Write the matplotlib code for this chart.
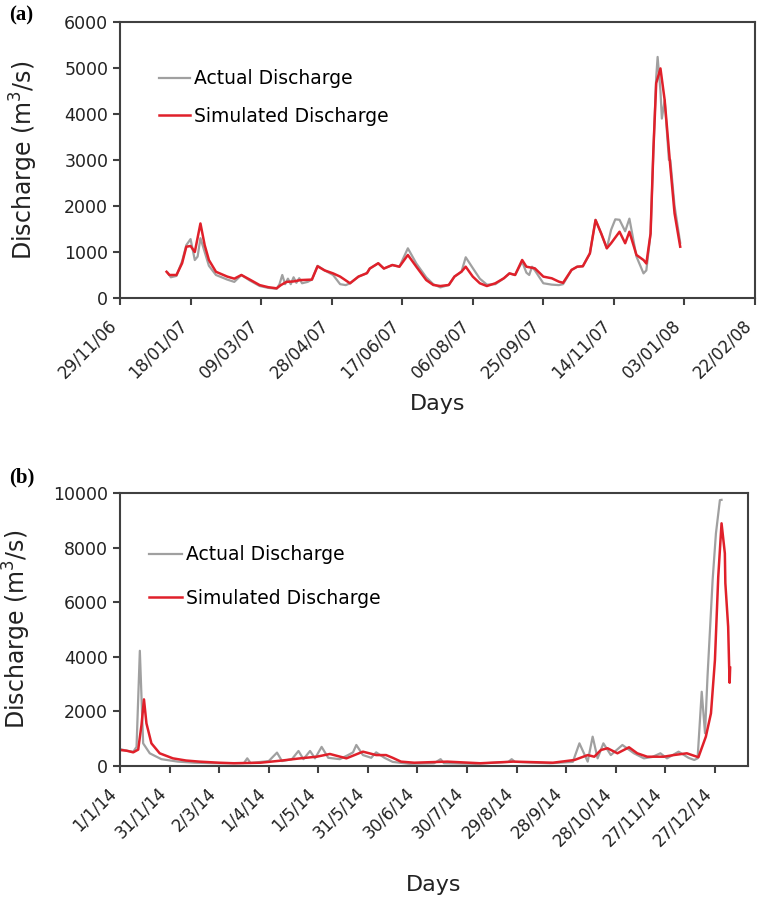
import numpy as np
import pandas as pd
import matplotlib
matplotlib.use("Agg")
import matplotlib.pyplot as plt
import matplotlib.dates as mdates

plt.rcParams['font.family'] = ['DejaVu Sans']

# ---- panel (a): 2007, days counted from 1 Jan 2007
sim_a_day = [0, 2, 7, 11, 14, 17, 20, 24, 27, 30, 35, 43, 48, 53, 59, 66, 72, 78, 81, 85, 90,
             95, 103, 107, 112, 118, 123, 130, 136, 142, 144, 150, 154, 160, 165, 171, 177,
             184, 189, 194, 200, 204, 209, 212, 217, 222, 227, 233, 239, 243, 247, 252, 255,
             261, 267, 273, 278, 281, 287, 291, 295, 300, 304, 308, 312, 315, 321, 325, 328,
             333, 338, 340, 343, 345, 347, 350, 353, 357, 360, 364]
sim_a_val = [570, 500, 500, 755, 1115, 1130, 1000, 1620, 1150, 825, 570, 465, 420, 500, 400,
             280, 235, 210, 280, 350, 360, 390, 400, 690, 600, 535, 465, 320, 465, 540, 640,
             755, 640, 717, 680, 935, 680, 390, 283, 260, 283, 465, 572, 680, 465, 320, 260,
             320, 428, 535, 500, 826, 680, 645, 465, 428, 355, 330, 610, 680, 690, 970, 1695,
             1405, 1080, 1190, 1440, 1190, 1440, 935, 825, 750, 1400, 3220, 4670, 4990, 4300,
             2855, 1840, 1115]
act_a_day = [1, 3, 7, 11, 14, 17, 20, 22, 24, 27, 30, 35, 43, 48, 53, 59, 66, 72, 78, 80, 82,
             84, 86, 88, 90, 92, 94, 96, 100, 103, 107, 112, 118, 123, 127, 130, 136, 142, 144,
             150, 154, 160, 165, 171, 177, 184, 189, 194, 200, 204, 209, 212, 217, 222, 227,
             233, 239, 243, 247, 252, 255, 257, 259, 261, 267, 273, 278, 281, 287, 291, 295,
             300, 304, 308, 312, 315, 318, 321, 325, 328, 333, 338, 340, 343, 345, 347, 348,
             350, 351, 353, 356, 357, 360, 364]
act_a_val = [540, 450, 480, 800, 1150, 1280, 825, 900, 1300, 1000, 700, 500, 400, 350, 500,
             380, 260, 220, 200, 300, 500, 300, 420, 300, 450, 330, 430, 320, 350, 400, 700,
             600, 500, 300, 280, 320, 465, 540, 640, 755, 640, 717, 680, 1080, 750, 450, 300,
             230, 283, 465, 572, 885, 650, 420, 290, 300, 428, 535, 500, 790, 550, 500, 680,
             600, 320, 290, 280, 300, 610, 680, 690, 970, 1700, 1400, 1080, 1480, 1710, 1700,
             1450, 1725, 900, 535, 600, 1400, 3200, 4800, 5240, 4500, 3900, 4300, 3000, 3000,
             2000, 1200]
ticks_a = ['29/11/06', '18/01/07', '09/03/07', '28/04/07', '17/06/07', '06/08/07',
           '25/09/07', '14/11/07', '03/01/08', '22/02/08']

# ---- panel (b): 2014, days counted from 1 Jan 2014
sim_b_day = [0, 4, 8, 11, 13, 14.5, 16, 19, 24, 32, 40, 48, 60, 69, 85, 98, 109, 119, 127,
             137, 147, 155, 161, 165, 170, 178, 198, 218, 238, 262, 275, 283, 287, 291, 295,
             301, 308, 313, 319, 329, 335, 343, 350, 354.5, 357.6, 360, 362, 364, 366, 366.3,
             368, 368.6, 368.9, 369.2]
sim_b_val = [586, 560, 500, 600, 1500, 2440, 1560, 830, 465, 280, 200, 160, 120, 100, 120,
             200, 280, 340, 440, 280, 525, 400, 400, 300, 160, 120, 160, 100, 160, 120, 220,
             400, 340, 586, 650, 465, 685, 465, 340, 340, 400, 465, 320, 1075, 1930, 3880,
             6930, 8890, 7790, 6700, 5100, 3640, 3050, 3600]
act_b_day = [0, 4, 8, 10, 12, 14, 18, 25, 35, 45, 60, 75, 77, 79, 90, 95, 98, 104, 108, 111,
             115, 118, 122, 126, 133, 138, 141, 143, 147, 152, 155, 160, 165, 175, 190, 194,
             196, 215, 235, 237, 239, 260, 274, 278, 283, 286, 289, 292.5, 297, 304, 311, 317,
             322, 327, 331, 338, 344, 347.5, 349.5, 352, 354, 355.5, 358.6, 360.6, 363, 364]
act_b_val = [620, 560, 520, 700, 4220, 830, 465, 250, 160, 120, 100, 110, 280, 110, 180, 490,
             180, 250, 550, 250, 550, 280, 700, 300, 250, 400, 500, 770, 400, 300, 500, 300,
             150, 80, 100, 250, 100, 80, 150, 250, 150, 100, 150, 830, 160, 1075, 280, 830,
             400, 770, 465, 280, 330, 465, 280, 525, 300, 220, 280, 2720, 1200, 3270, 6810,
             8520, 9740, 9750]
ticks_b = ['1/1/14', '31/1/14', '2/3/14', '1/4/14', '1/5/14', '31/5/14', '30/6/14',
           '30/7/14', '29/8/14', '28/9/14', '28/10/14', '27/11/14', '27/12/14']


def to_dates(start, days):
    return pd.Timestamp(start) + pd.to_timedelta(np.array(days, dtype=float), unit='D')


GRAY = '#a0a0a0'
RED = '#e0202a'
SPINE = '#404040'

fig = plt.figure(figsize=(7.61, 9.0), dpi=100)
ax1 = fig.add_axes([0.1577, 0.6689, 0.8344, 0.3067])
ax2 = fig.add_axes([0.1577, 0.1489, 0.8252, 0.3033])


def style(ax, tick_dates, tick_labels, ymax, ystep, xlabelpad):
    ax.set_xticks(mdates.date2num(tick_dates))
    ax.set_xticklabels(tick_labels, rotation=45, ha='right')
    ax.set_ylim(0, ymax)
    ax.set_yticks(np.arange(0, ymax + 1, ystep))
    for s in ax.spines.values():
        s.set_color(SPINE)
        s.set_linewidth(1.5)
    ax.tick_params(direction='out', length=5, width=1.5, color=SPINE,
                   labelsize=12.5, labelcolor='#222222')
    ax.tick_params(axis='x', pad=8, labelsize=12)
    ax.set_ylabel('Discharge (m$^3$/s)', fontsize=17, color='#222222')
    ax.set_xlabel('Days', fontsize=16, color='#222222', labelpad=xlabelpad)


# panel (a)
ax1.plot(to_dates('2007-01-01', act_a_day), act_a_val, color=GRAY, lw=1.6, label='Actual Discharge')
ax1.plot(to_dates('2007-01-01', sim_a_day), sim_a_val, color=RED, lw=1.8, label='Simulated Discharge')
ta = pd.date_range('2006-11-29', periods=len(ticks_a), freq='50D')
ax1.set_xlim(mdates.date2num(ta[0]), mdates.date2num(ta[-1]))
style(ax1, ta, ticks_a, 6000, 1000, 9)
ax1.yaxis.set_label_coords(-0.126, 0.5)
ax1.legend(loc='upper left', bbox_to_anchor=(0.035, 0.89), frameon=False,
           fontsize=13.5, handlelength=1.65, handletextpad=0.2, labelspacing=1.0)

# panel (b)
ax2.plot(to_dates('2014-01-01', act_b_day), act_b_val, color=GRAY, lw=1.6, label='Actual Discharge')
ax2.plot(to_dates('2014-01-01', sim_b_day), sim_b_val, color=RED, lw=1.8, label='Simulated Discharge')
tb = pd.date_range('2014-01-01', periods=len(ticks_b), freq='30D')
ax2.set_xlim(mdates.date2num(tb[0]), mdates.date2num(tb[0] + pd.Timedelta(days=380)))
style(ax2, tb, ticks_b, 10000, 2000, 18)
ax2.yaxis.set_label_coords(-0.138, 0.5)
ax2.legend(loc='upper left', bbox_to_anchor=(0.02, 0.87), frameon=False,
           fontsize=13.5, handlelength=1.75, handletextpad=0.2, labelspacing=1.3)

fig.text(0.012, 0.983, '(a)', fontsize=15, fontweight='bold', family='Liberation Serif', va='center')
fig.text(0.012, 0.47, '(b)', fontsize=15, fontweight='bold', family='Liberation Serif', va='center')

fig.savefig('out.png', dpi=100)
